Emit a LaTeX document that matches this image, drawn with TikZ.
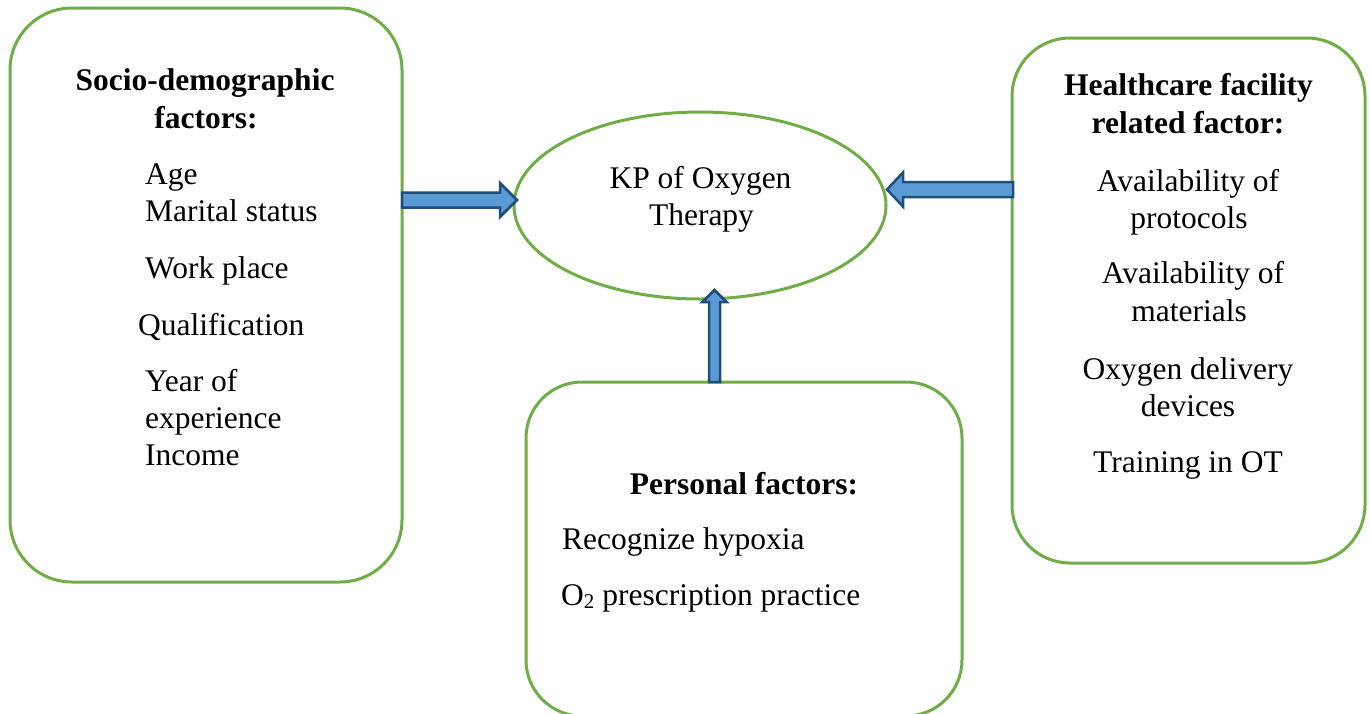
\documentclass[tikz,border=0pt]{standalone}
\usepackage{fontspec}
\setmainfont{Liberation Serif}
\usetikzlibrary{shapes.geometric,calc}
\definecolor{boxgreen}{HTML}{70AD47}
\definecolor{arrowfill}{HTML}{5B9BD5}
\definecolor{arrowedge}{HTML}{1F4E79}
\tikzset{
  box/.style={draw=boxgreen, line width=3pt, fill=white},
  oval/.style={ellipse, draw=boxgreen, line width=3pt, inner sep=0pt},
  blockarrow/.style={draw=arrowedge, fill=arrowfill, line width=2.5pt, line join=miter},
  txt/.style={font=\fontsize{31.5}{37}\selectfont, inner sep=0pt},
  btxt/.style={font=\fontsize{31.5}{37}\selectfont\bfseries, inner sep=0pt},
}
\begin{document}
\begin{tikzpicture}[x=1pt,y=-1pt]
\useasboundingbox (0,0) rectangle (1369,713);
% boxes
\node[box, rounded corners=62pt, minimum width=392pt, minimum height=574pt] (sd) at (206,295) {};
\node[box, rounded corners=58pt, minimum width=353pt, minimum height=525pt] (hf) at (1188.5,300.5) {};
\node[box, rounded corners=56pt, minimum width=436pt, minimum height=334pt] (pf) at (744,549) {};
\node[oval, minimum width=372pt, minimum height=187pt] (kp) at (700,205.5) {};
% arrows
\coordinate (la) at (402,200); \coordinate (lb) at (517,200);
\draw[blockarrow] let \p1=(la),\p2=(lb) in
  (\x1,\y1+7.5pt) -- (\x2-17pt,\y1+7.5pt) -- (\x2-17pt,\y1+17pt) -- (\x2,\y1)
  -- (\x2-17pt,\y1-17pt) -- (\x2-17pt,\y1-7.5pt) -- (\x1,\y1-7.5pt) -- cycle;
\coordinate (ra) at (1013,189.5); \coordinate (rb) at (887,189.5);
\draw[blockarrow] let \p1=(ra),\p2=(rb) in
  (\x1,\y1+7.5pt) -- (\x2+16pt,\y1+7.5pt) -- (\x2+16pt,\y1+17pt) -- (\x2,\y1)
  -- (\x2+16pt,\y1-17pt) -- (\x2+16pt,\y1-7.5pt) -- (\x1,\y1-7.5pt) -- cycle;
\coordinate (ua) at (714.5,382); \coordinate (ub) at (714.5,290);
\draw[blockarrow] let \p1=(ua),\p2=(ub) in
  (\x1-5.5pt,\y1) -- (\x1-5.5pt,\y2-12pt) -- (\x1-12pt,\y2-12pt) -- (\x1,\y2)
  -- (\x1+12pt,\y2-12pt) -- (\x1+5.5pt,\y2-12pt) -- (\x1+5.5pt,\y1) -- cycle;
% left box text
\node[btxt, anchor=base] (sd1) at (205,90) {Socio-demographic};
\node[btxt, anchor=base] (sd2) at (206,128) {factors:};
\node[txt, anchor=base west] (s1) at (145,184) {Age};
\node[txt, anchor=base west] (s2) at (145,221) {Marital status};
\node[txt, anchor=base west] (s3) at (145,278) {Work place};
\node[txt, anchor=base west] (s4) at (138,335) {Qualification};
\node[txt, anchor=base west] (s5) at (145,391) {Year of};
\node[txt, anchor=base west] (s6) at (145,428) {experience};
\node[txt, anchor=base west] (s7) at (145,465) {Income};
% ellipse text
\node[txt, anchor=base] (k1) at (700.5,188) {KP of Oxygen};
\node[txt, anchor=base] (k2) at (701.5,225) {Therapy};
% right box text
\node[btxt, anchor=base] (h1) at (1188.5,95) {Healthcare facility};
\node[btxt, anchor=base] (h2) at (1188,133) {related factor:};
\node[txt, anchor=base] (h3) at (1188,191) {Availability of};
\node[txt, anchor=base] (h4) at (1189,228) {protocols};
\node[txt, anchor=base] (h5) at (1193,283) {Availability of};
\node[txt, anchor=base] (h6) at (1189,321) {materials};
\node[txt, anchor=base] (h7) at (1188,379) {Oxygen delivery};
\node[txt, anchor=base] (h8) at (1188,416) {devices};
\node[txt, anchor=base] (h9) at (1188,472) {Training in OT};
% bottom box text
\node[btxt, anchor=base] (p1) at (744,494) {Personal factors:};
\node[txt, anchor=base west] (p2) at (562,549) {Recognize hypoxia};
\node[txt, anchor=base west] (p3) at (561,605) {O\raisebox{-0.12em}{\fontsize{21}{21}\selectfont 2} prescription practice};
\end{tikzpicture}
\end{document}
